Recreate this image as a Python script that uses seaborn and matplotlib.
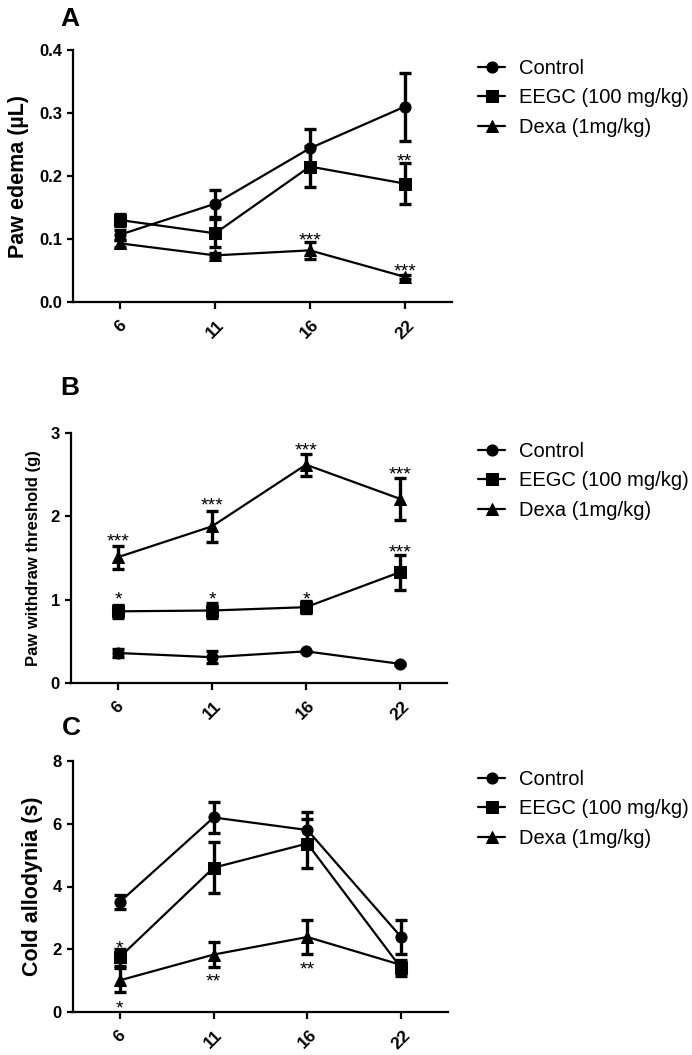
import numpy as np
import pandas as pd
import matplotlib
matplotlib.use("Agg")
import matplotlib.pyplot as plt
from matplotlib.ticker import FormatStrFormatter
import seaborn as sns

# ---------------- data ----------------
days = ["6", "11", "16", "22"]
groups = ["Control", "EEGC (100 mg/kg)", "Dexa (1mg/kg)"]

# Panel A: paw edema (uL)
a_control = [0.107, 0.156, 0.244, 0.310]
a_control_err = [0.008, 0.021, 0.031, 0.054]
a_eegc = [0.130, 0.109, 0.215, 0.188]
a_eegc_err = [0.010, 0.022, 0.032, 0.032]
a_dexa = [0.093, 0.074, 0.082, 0.040]
a_dexa_err = [0.005, 0.003, 0.013, 0.003]
a_marks = [(3, 0.232, "**"), (2, 0.108, "***"), (3, 0.058, "***")]

# Panel B: paw withdraw threshold (g)
b_control = [0.36, 0.31, 0.38, 0.23]
b_control_err = [0.05, 0.07, 0.01, 0.01]
b_eegc = [0.86, 0.87, 0.91, 1.33]
b_eegc_err = [0.08, 0.09, 0.07, 0.21]
b_dexa = [1.51, 1.88, 2.62, 2.21]
b_dexa_err = [0.14, 0.19, 0.13, 0.25]
b_marks = [(0, 1.77, "***"), (1, 2.20, "***"), (2, 2.86, "***"), (3, 2.58, "***"),
           (3, 1.64, "***"), (0, 1.07, "*"), (1, 1.07, "*"), (2, 1.07, "*")]

# Panel C: cold allodynia (s)
c_control = [3.51, 6.20, 5.80, 2.39]
c_control_err = [0.22, 0.50, 0.57, 0.53]
c_eegc = [1.75, 4.60, 5.37, 1.40]
c_eegc_err = [0.27, 0.82, 0.78, 0.25]
c_dexa = [1.01, 1.83, 2.39, 1.50]
c_dexa_err = [0.38, 0.41, 0.53, 0.10]
c_marks = [(0, 2.23, "*"), (0, 0.32, "*"), (1, 1.17, "**"), (2, 1.54, "**")]

markers = {"Control": "o", "EEGC (100 mg/kg)": "s", "Dexa (1mg/kg)": "^"}

# ---------------- style ----------------
sns.set_style("ticks")
plt.rcParams["font.family"] = ["Liberation Sans", "DejaVu Sans"]
for k in ["text.color", "axes.labelcolor", "xtick.color", "ytick.color", "axes.edgecolor"]:
    plt.rcParams[k] = "black"
plt.rcParams["axes.linewidth"] = 1.6
plt.rcParams["xtick.major.width"] = 1.6
plt.rcParams["ytick.major.width"] = 1.6
plt.rcParams["xtick.major.size"] = 5
plt.rcParams["ytick.major.size"] = 4.5
plt.rcParams["xtick.direction"] = "out"
plt.rcParams["ytick.direction"] = "out"

W, H = 692, 1055
fig = plt.figure(figsize=(W / 100, H / 100), dpi=100)


def add_ax(left, right, top, bottom):
    return fig.add_axes([left / W, 1 - bottom / H, (right - left) / W, (bottom - top) / H])


def panel(ax, vals, errs, ymax, yticks, fmt, ylabel, ylabel_size, marks, letter, letter_xy, top_px):
    rows = []
    for g, v in zip(groups, vals):
        for i, d in enumerate(days):
            rows.append({"pos": i, "day": d, "value": v[i], "group": g})
    df = pd.DataFrame(rows)
    sns.lineplot(data=df, x="pos", y="value", hue="group", style="group",
                 markers=markers, dashes=False, palette=["black"] * 3,
                 hue_order=groups, style_order=groups,
                 markersize=8, linewidth=1.6, markeredgecolor="black",
                 ax=ax, legend=True, zorder=3)
    for g, v, e in zip(groups, vals, errs):
        ax.errorbar(np.arange(len(days)), v, yerr=e, fmt="none", ecolor="black",
                    elinewidth=2.4, capsize=4, capthick=2.4, zorder=2)
    for i, y, t in marks:
        ax.annotate(t, xy=(i, y), xytext=(0, -8), textcoords="offset points",
                    ha="center", va="baseline", fontsize=14)
    ax.set_xlim(-0.5, 3.5)
    ax.set_ylim(0, ymax)
    ax.set_yticks(yticks)
    ax.yaxis.set_major_formatter(FormatStrFormatter(fmt))
    ax.set_xticks(np.arange(len(days)))
    ax.set_xticklabels(days, rotation=45, ha="center", fontsize=12.5, fontweight="bold")
    ax.tick_params(axis="x", pad=6)
    for lab in ax.get_yticklabels():
        lab.set_fontsize(12)
        lab.set_fontweight("bold")
    ax.set_xlabel("")
    ax.set_ylabel(ylabel, fontsize=ylabel_size, fontweight="bold", labelpad=7)
    sns.despine(ax=ax)
    handles, labels = ax.get_legend_handles_labels()
    ax.legend(handles, labels, loc="upper left",
              bbox_to_anchor=(478 / W, 1 - (top_px + 9) / H),
              bbox_transform=fig.transFigure, frameon=False, fontsize=14.5,
              handlelength=1.35, handletextpad=0.7, labelspacing=0.52,
              borderpad=0, borderaxespad=0)
    fig.text(letter_xy[0] / W, 1 - letter_xy[1] / H, letter, fontsize=19,
             fontweight="bold", ha="left", va="baseline")


axA = add_ax(73, 452, 50, 302)
panel(axA, [a_control, a_eegc, a_dexa], [a_control_err, a_eegc_err, a_dexa_err],
      0.4, [0.0, 0.1, 0.2, 0.3, 0.4], "%.1f", "Paw edema (\u00b5L)", 15.5,
      a_marks, "A", (60, 26), 50)

axB = add_ax(71, 447, 433, 683)
panel(axB, [b_control, b_eegc, b_dexa], [b_control_err, b_eegc_err, b_dexa_err],
      3, [0, 1, 2, 3], "%d", "Paw withdraw threshold (g)", 12,
      b_marks, "B", (60, 395), 433)

axC = add_ax(73, 448, 761, 1012)
panel(axC, [c_control, c_eegc, c_dexa], [c_control_err, c_eegc_err, c_dexa_err],
      8, [0, 2, 4, 6, 8], "%d", "Cold allodynia (s)", 15.5,
      c_marks, "C", (62, 735), 761)

fig.savefig("out.png", dpi=100)
